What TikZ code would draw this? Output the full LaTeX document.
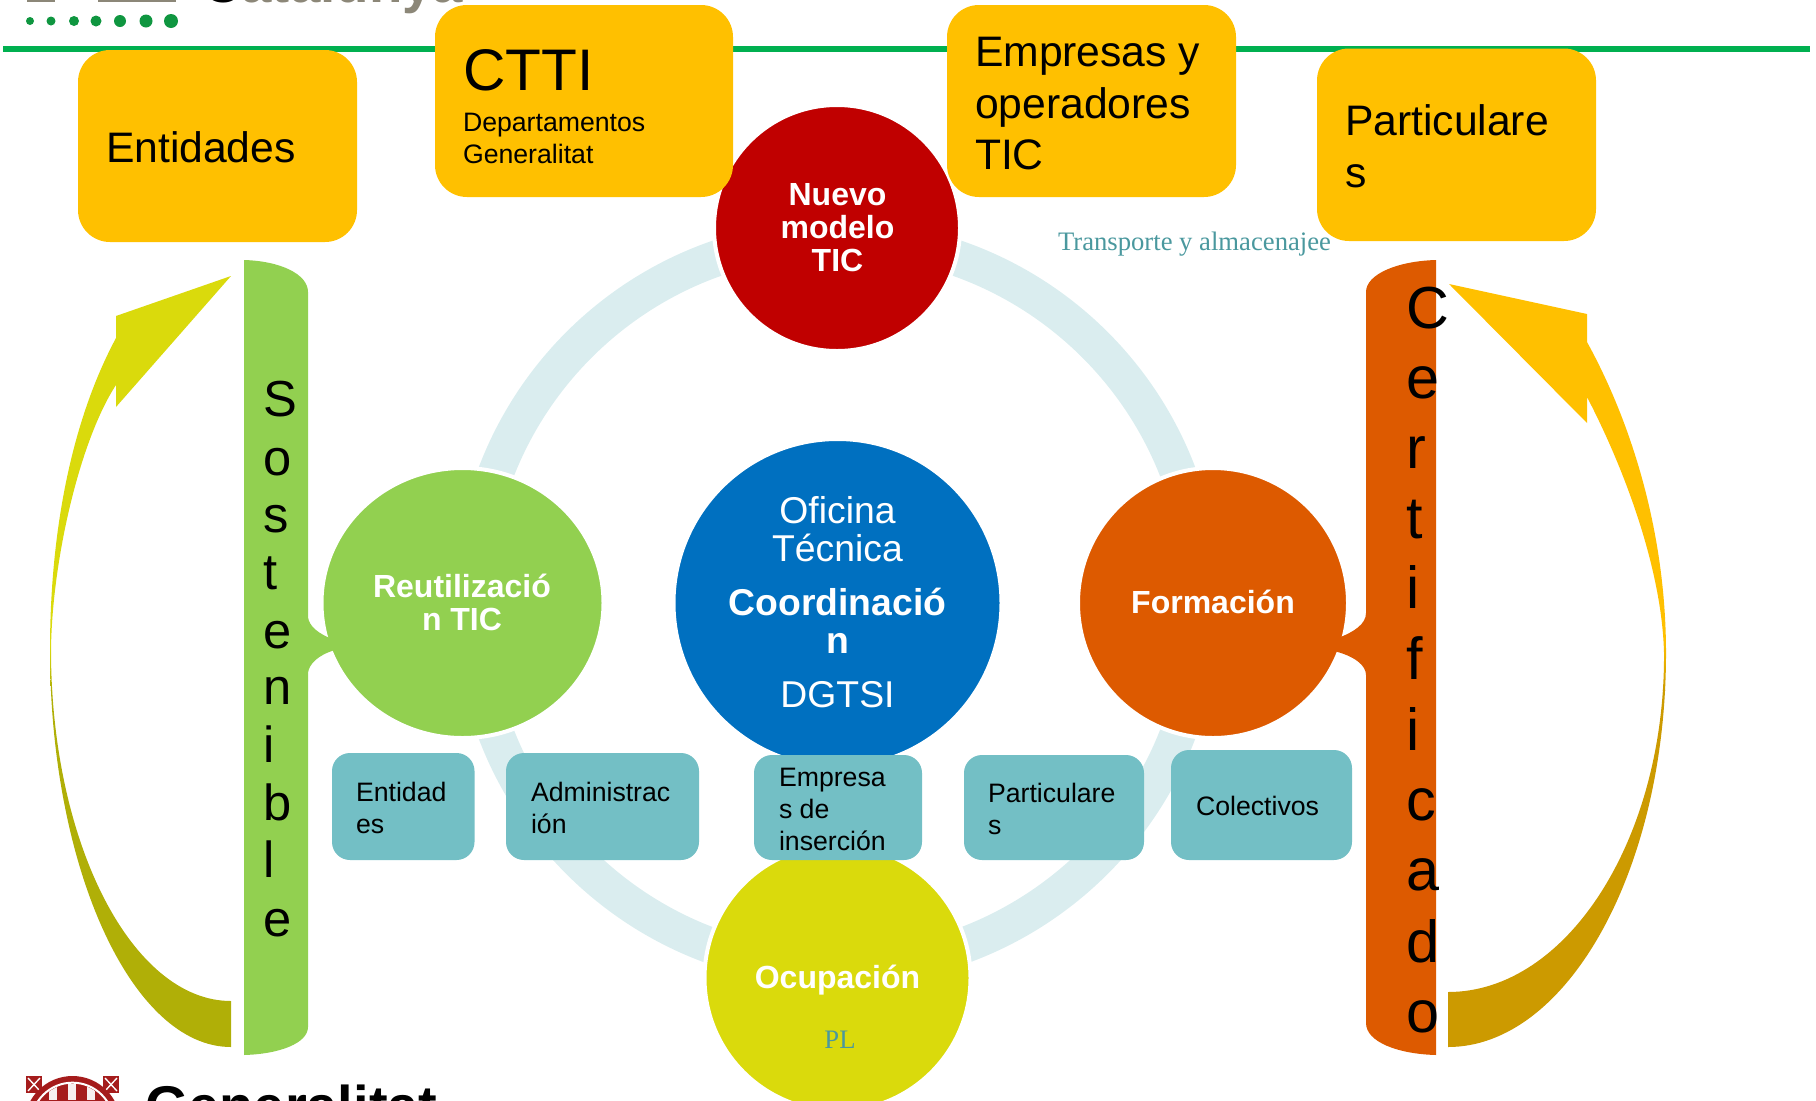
\documentclass[tikz,border=0pt]{standalone}
\usepackage{fontspec}
\setmainfont{Liberation Sans}
\newfontfamily\serifface{Liberation Serif}
\usetikzlibrary{shapes.geometric}
\definecolor{amber}{HTML}{FFC000}
\definecolor{ringc}{HTML}{DAEDEF}
\definecolor{tealb}{HTML}{73BFC5}
\definecolor{leaf}{HTML}{92D050}
\definecolor{rust}{HTML}{DD5A00}
\definecolor{lime}{HTML}{DADA0C}
\definecolor{limed}{HTML}{B0AF07}
\definecolor{ambd}{HTML}{CC9A00}
\definecolor{crim}{HTML}{C00000}
\definecolor{azure}{HTML}{0070C0}
\definecolor{lineg}{HTML}{00B050}
\definecolor{dotg}{HTML}{0F9640}
\definecolor{logog}{HTML}{8C8778}
\definecolor{sealr}{HTML}{A51C1C}
\definecolor{sealw}{HTML}{F6EFEF}
\definecolor{capt}{HTML}{4A989E}
\newcommand{\fs}[1]{\fontsize{#1}{#1}\selectfont}
\tikzset{
  x=0.75pt,y=-0.75pt,
  orb/.style={ellipse,draw=white,line width=3pt,inner sep=0pt,outer sep=0pt},
  topbox/.style={fill=amber,rounded corners=24pt,draw=none},
  tealbox/.style={fill=tealb,rounded corners=13.5pt,draw=none},
  lab/.style={anchor=base west,inner sep=0pt,outer sep=0pt,text=black},
  orbw/.style={anchor=base,inner sep=0pt,outer sep=0pt,text=white,font=\bfseries\fs{24}},
  orbr/.style={anchor=base,inner sep=0pt,outer sep=0pt,text=white,font=\fs{28}},
  letterg/.style={lab,font=\fs{38}},
  lettero/.style={lab,font=\fs{44.5}},
}
\begin{document}
\begin{tikzpicture}
\useasboundingbox (0,0) rectangle (1816,1100);
\clip (0,0) rectangle (1816,1100);
% header
\fill[lineg] (3,45.5) rectangle (1810,51.5);
\fill[logog] (27,0) rectangle (55,2);
\fill[logog] (98,0) rectangle (176,2);
\node[lab,font=\bfseries\fs{41}] (capc) at (202,2) {C\textcolor{logog}{atalunya}};
\foreach \px/\pr in {30/4,51/4.5,74/5,96/5.5,120/6,146/6.5,171/7}
  \fill[dotg] (\px,21) circle[radius=\pr*0.75pt];
% ring
\draw[ringc,line width=27pt] (837,603) circle[radius=273.75pt];
% circles
\node[orb,fill=crim,minimum width=184.5pt,minimum height=184.5pt] (nuevo) at (837,228) {};
\node[orb,fill=azure,minimum width=246pt,minimum height=246pt] (ofi) at (837.5,603) {};
\node[orb,fill=leaf,minimum width=211.5pt,minimum height=202.5pt] (reut) at (462.5,603) {};
\node[orb,fill=rust,minimum width=202.5pt,minimum height=202.5pt] (form) at (1213,603) {};
\node[orb,fill=lime,minimum width=199.5pt,minimum height=199.5pt] (ocup) at (837.5,978) {};
% side bars
\fill[leaf] (244,260) .. controls (280,261) and (308,274) .. (308,292)
  -- (308,617) .. controls (309,626) and (318,634) .. (335,640)
  -- (335,650) .. controls (318,655) and (309,664) .. (308,673)
  -- (308,1027) .. controls (308,1043) and (280,1054) .. (244,1055) -- cycle;
\fill[rust] (1436,260) .. controls (1398,261) and (1366,274) .. (1366,292)
  -- (1366,613) .. controls (1366,624) and (1354,632) .. (1338,638)
  -- (1334,651) .. controls (1354,656) and (1366,665) .. (1366,675)
  -- (1366,1023) .. controls (1366,1042) and (1398,1054) .. (1436,1055) -- cycle;
% left arrow
\begin{scope}
\clip (231,1047) .. controls (132,1047) and (50,868) .. (50,650)
  .. controls (50,530) and (72,420) .. (116,338) -- (116,316) -- (231,276) -- (116,407) -- (116,385)
  .. controls (80,440) and (52,560) .. (51,650)
  .. controls (51,843) and (132,1001) .. (231,1001) -- cycle;
\fill[lime] (0,250) rectangle (260,645);
\shade[top color=lime,bottom color=limed] (0,645) rectangle (260,690);
\fill[limed] (0,690) rectangle (260,1060);
\end{scope}
% right arrow
\begin{scope}
\clip (1448,1047) .. controls (1567,1047) and (1666,870) .. (1666,653)
  .. controls (1666,530) and (1630,420) .. (1587,342) -- (1587,314) -- (1449,284) -- (1587,423) -- (1587,397)
  .. controls (1625,470) and (1662,570) .. (1664,653)
  .. controls (1665,839) and (1567,992) .. (1448,992) -- cycle;
\fill[amber] (1440,270) rectangle (1680,640);
\shade[top color=amber,bottom color=ambd] (1440,640) rectangle (1680,690);
\fill[ambd] (1440,690) rectangle (1680,1060);
\end{scope}
% top boxes
\fill[topbox] (78,50) rectangle (357,242);
\fill[topbox] (435,5) rectangle (733,197);
\fill[topbox] (947,5) rectangle (1236,197);
\fill[topbox] (1317,48.5) rectangle (1596,241);
\node[lab,font=\fs{32}] (t1) at (106,162) {Entidades};
\node[lab,font=\fs{44}] (t2) at (463,90) {CTTI};
\node[lab,font=\fs{20}] (t3) at (463,131) {Departamentos};
\node[lab,font=\fs{20}] (t4) at (463,163) {Generalitat};
\node[lab,font=\fs{32}] (t5) at (975,66) {Empresas y};
\node[lab,font=\fs{32}] (t6) at (975,118) {operadores};
\node[lab,font=\fs{32}] (t7) at (975,169) {TIC};
\node[lab,font=\fs{32}] (t8) at (1345,135) {Particulare};
\node[lab,font=\fs{32}] (t9) at (1345,187) {s};
\node[lab,font=\serifface\fs{20},text=capt] (t10) at (1058,250) {Transporte y almacenajee};
% teal boxes
\fill[tealbox] (332,753) rectangle (474.5,860);
\fill[tealbox] (506,753) rectangle (699,860);
\fill[tealbox] (754,755) rectangle (922,860);
\fill[tealbox] (964,755) rectangle (1144,860);
\fill[tealbox] (1171,750) rectangle (1352,860);
\node[lab,font=\fs{20}] (a1) at (356,801) {Entidad};
\node[lab,font=\fs{20}] (a2) at (356,833) {es};
\node[lab,font=\fs{20}] (b1) at (531,801) {Administrac};
\node[lab,font=\fs{20}] (b2) at (531,833) {ión};
\node[lab,font=\fs{20}] (c1) at (779,786) {Empresa};
\node[lab,font=\fs{20}] (c2) at (779,818) {s de};
\node[lab,font=\fs{20}] (c3) at (779,850) {inserción};
\node[lab,font=\fs{20}] (d1) at (988,802) {Particulare};
\node[lab,font=\fs{20}] (d2) at (988,834) {s};
\node[lab,font=\fs{20}] (e1) at (1196,815) {Colectivos};
% circle texts
\node[orbw] (n1) at (837.5,205) {Nuevo};
\node[orbw] (n2) at (837.5,238) {modelo};
\node[orbw] (n3) at (837.5,271) {TIC};
\node[orbw] (r1) at (462,597) {Reutilizació};
\node[orbw] (r2) at (462,630) {n TIC};
\node[orbw] (f1) at (1213,613) {Formación};
\node[orbw] (o1) at (837.5,988) {Ocupación};
\node[anchor=base,inner sep=0pt,font=\serifface\fs{20},text=capt] (o2) at (840,1048) {PL};
\node[orbr] (g1) at (837.5,523) {Oficina};
\node[orbr] (g2) at (837.5,561) {Técnica};
\node[orbr,font=\bfseries\fs{28}] (g3) at (837.5,615) {Coordinació};
\node[orbr,font=\bfseries\fs{28}] (g4) at (837.5,653) {n};
\node[orbr] (g5) at (837.5,707) {DGTSI};
% vertical letters
\foreach \ch/\py [count=\i] in {S/416,o/475,s/532,t/589,e/648,n/704,i/762,b/820,l/877,e/936}
  \node[letterg] (sos\i) at (263,\py) {\ch};
\foreach \ch/\py [count=\i] in {C/328,e/398,r/468,t/538,i/608,f/679,i/750,c/820,a/890,d/962,o/1032}
  \node[lettero] (cer\i) at (1406,\py) {\ch};
% seal
\begin{scope}
\clip (26,1076) rectangle (119,1100);
\fill[sealr] (26,1076) rectangle (42,1093);
\fill[sealr] (103,1076) rectangle (119,1093);
\draw[white,line width=1pt] (28,1078) -- (40,1091) (40,1078) -- (28,1091);
\draw[white,line width=1pt] (105,1078) -- (117,1091) (117,1078) -- (105,1091);
\fill[sealr] (72.5,1124) circle[radius=36pt];
\draw[white,line width=1.5pt] (72.5,1124) circle[radius=31pt];
\begin{scope}
\clip (72.5,1124) circle[radius=30pt];
\foreach \sx in {49,68,87} \fill[sealw] (\sx,1075) rectangle (\sx+8,1100);
\end{scope}
\end{scope}
% footer word
\node[lab,font=\bfseries\fs{42}] (gen) at (145,1125) {Generalitat};
\end{tikzpicture}
\end{document}
